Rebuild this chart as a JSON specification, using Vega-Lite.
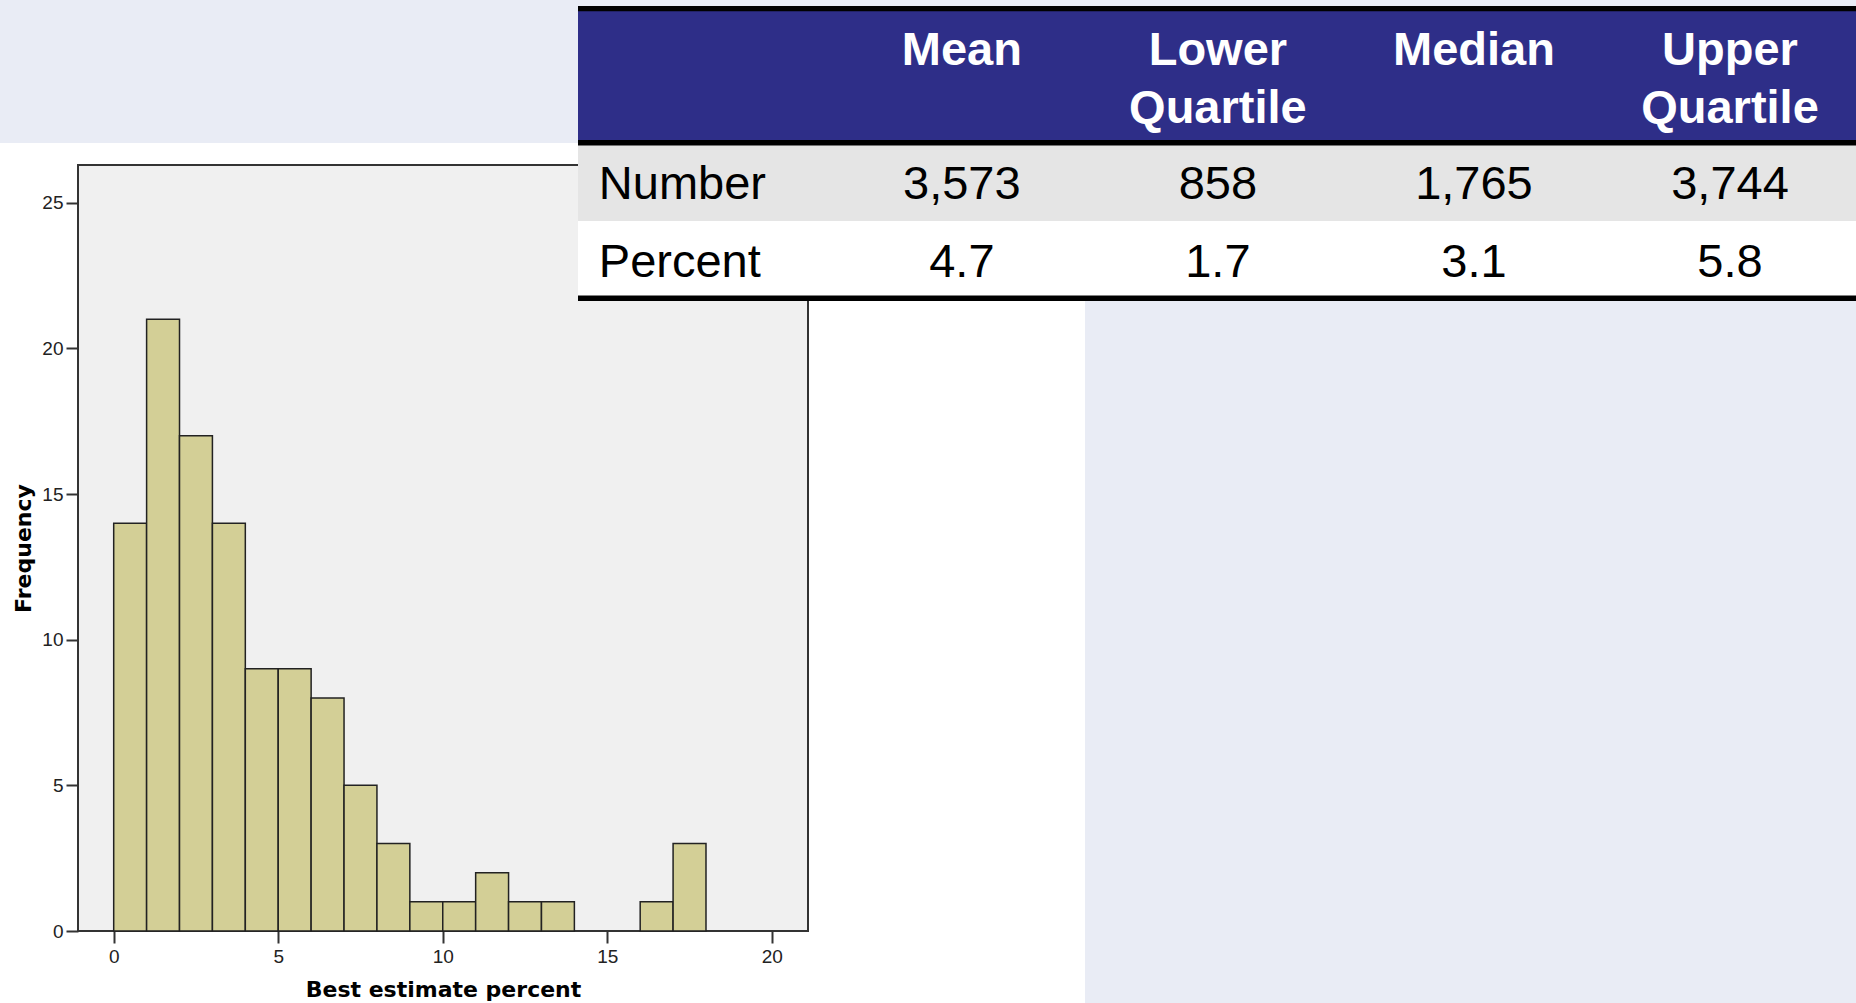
{
  "$schema": "https://vega.github.io/schema/vega-lite/v6.json",
  "autosize": "none",
  "width": 730,
  "height": 766,
  "padding": {"left": 78, "top": 165, "right": 1048, "bottom": 72},
  "background": "white",
  "config": {
    "view": {"stroke": "#333333", "strokeWidth": 2, "fill": "#f0f0f0"},
    "axis": {
      "grid": false,
      "domain": false,
      "tickSize": 12,
      "tickWidth": 2,
      "tickColor": "#333333",
      "labelFont": "Liberation Sans",
      "labelFontSize": 19,
      "labelColor": "#222222",
      "labelFlush": false,
      "labelOverlap": false,
      "titleFont": "DejaVu Sans",
      "titleFontSize": 22,
      "titleFontWeight": "bold",
      "titleColor": "#000000"
    }
  },
  "datasets": {
    "bins": [
      {"bin_start": 0, "bin_end": 1, "frequency": 14},
      {"bin_start": 1, "bin_end": 2, "frequency": 21},
      {"bin_start": 2, "bin_end": 3, "frequency": 17},
      {"bin_start": 3, "bin_end": 4, "frequency": 14},
      {"bin_start": 4, "bin_end": 5, "frequency": 9},
      {"bin_start": 5, "bin_end": 6, "frequency": 9},
      {"bin_start": 6, "bin_end": 7, "frequency": 8},
      {"bin_start": 7, "bin_end": 8, "frequency": 5},
      {"bin_start": 8, "bin_end": 9, "frequency": 3},
      {"bin_start": 9, "bin_end": 10, "frequency": 1},
      {"bin_start": 10, "bin_end": 11, "frequency": 1},
      {"bin_start": 11, "bin_end": 12, "frequency": 2},
      {"bin_start": 12, "bin_end": 13, "frequency": 1},
      {"bin_start": 13, "bin_end": 14, "frequency": 1},
      {"bin_start": 16, "bin_end": 17, "frequency": 1},
      {"bin_start": 17, "bin_end": 18, "frequency": 3}
    ],
    "table": [
      {"row": "Number", "column": "Mean", "value": "3,573"},
      {"row": "Number", "column": "Lower Quartile", "value": "858"},
      {"row": "Number", "column": "Median", "value": "1,765"},
      {"row": "Number", "column": "Upper Quartile", "value": "3,744"},
      {"row": "Percent", "column": "Mean", "value": "4.7"},
      {"row": "Percent", "column": "Lower Quartile", "value": "1.7"},
      {"row": "Percent", "column": "Median", "value": "3.1"},
      {"row": "Percent", "column": "Upper Quartile", "value": "5.8"}
    ],
    "header": [
      {"column": "Mean", "label": ["Mean"]},
      {"column": "Lower Quartile", "label": ["Lower", "Quartile"]},
      {"column": "Median", "label": ["Median"]},
      {"column": "Upper Quartile", "label": ["Upper", "Quartile"]}
    ],
    "rows": [
      {"row": "Number"},
      {"row": "Percent"}
    ]
  },
  "resolve": {"scale": {"x": "independent", "y": "independent"}},
  "layer": [
    {
      "data": {"name": "bins"},
      "mark": {"type": "rect", "fill": "#d3cf96", "stroke": "#222222", "strokeWidth": 1.5},
      "encoding": {
        "x": {
          "field": "bin_start",
          "type": "quantitative",
          "scale": {"domain": [-1.085, 21.1], "nice": false, "zero": false},
          "axis": {"title": "Best estimate percent", "values": [0, 5, 10, 15, 20], "labelPadding": 4, "titlePadding": 13.5}
        },
        "x2": {"field": "bin_end"},
        "y": {
          "field": "frequency",
          "type": "quantitative",
          "scale": {"domain": [0, 26.3], "nice": false},
          "axis": {"title": "Frequency", "values": [0, 5, 10, 15, 20, 25], "labelPadding": 3, "titlePadding": 6}
        },
        "y2": {"datum": 0}
      }
    },
    {
      "layer": [
        {
          "data": {"values": [{}]},
          "mark": {"type": "rect", "fill": "#e9ecf5"},
          "encoding": {
            "x": {"datum": 0, "type": "quantitative", "scale": {"domain": [78, 808], "nice": false, "zero": false}, "axis": null},
            "x2": {"datum": 1856},
            "y": {"datum": 0, "type": "quantitative", "scale": {"domain": [165, 931], "nice": false, "zero": false, "reverse": true}, "axis": null},
            "y2": {"datum": 143}
          }
        },
        {
          "data": {"values": [{}]},
          "mark": {"type": "rect", "fill": "#e9ecf5"},
          "encoding": {
            "x": {"datum": 1085, "type": "quantitative", "axis": null},
            "x2": {"datum": 1856},
            "y": {"datum": 143, "type": "quantitative", "axis": null},
            "y2": {"datum": 1003}
          }
        },
        {
          "data": {"values": [{}]},
          "mark": {"type": "rect", "fill": "#000000"},
          "encoding": {
            "x": {"datum": 578, "type": "quantitative", "axis": null},
            "x2": {"datum": 1856},
            "y": {"datum": 6, "type": "quantitative", "axis": null},
            "y2": {"datum": 301}
          }
        },
        {
          "data": {"values": [{}]},
          "mark": {"type": "rect", "fill": "#2e2e88"},
          "encoding": {
            "x": {"datum": 578, "type": "quantitative", "axis": null},
            "x2": {"datum": 1856},
            "y": {"datum": 11.3, "type": "quantitative", "axis": null},
            "y2": {"datum": 140}
          }
        },
        {
          "data": {"values": [{}]},
          "mark": {"type": "rect", "fill": "#e5e5e5"},
          "encoding": {
            "x": {"datum": 578, "type": "quantitative", "axis": null},
            "x2": {"datum": 1856},
            "y": {"datum": 145.5, "type": "quantitative", "axis": null},
            "y2": {"datum": 221}
          }
        },
        {
          "data": {"values": [{}]},
          "mark": {"type": "rect", "fill": "#ffffff"},
          "encoding": {
            "x": {"datum": 578, "type": "quantitative", "axis": null},
            "x2": {"datum": 1856},
            "y": {"datum": 221, "type": "quantitative", "axis": null},
            "y2": {"datum": 295.5}
          }
        }
      ]
    },
    {
      "layer": [
        {
          "data": {"name": "header"},
          "mark": {"type": "text", "font": "Liberation Sans", "fontSize": 47, "fontWeight": "bold", "color": "#ffffff", "align": "center", "baseline": "alphabetic", "lineHeight": 58.3, "dy": -56.3},
          "encoding": {
            "x": {"field": "column", "type": "nominal", "scale": {"type": "point", "domain": ["label", "Mean", "Lower Quartile", "Median", "Upper Quartile"], "range": [627.8, 1652], "padding": 0}, "axis": null},
            "y": {"datum": "header", "type": "nominal", "scale": {"type": "point", "domain": ["header", "Number", "Percent"], "range": [-43.7, 111.7], "padding": 0}, "axis": null},
            "text": {"field": "label"}
          }
        },
        {
          "data": {"name": "table"},
          "mark": {"type": "text", "font": "Liberation Sans", "fontSize": 47, "color": "#000000", "align": "center", "baseline": "alphabetic"},
          "encoding": {
            "x": {"field": "column", "type": "nominal", "axis": null},
            "y": {"field": "row", "type": "nominal", "axis": null},
            "text": {"field": "value"}
          }
        },
        {
          "data": {"name": "rows"},
          "mark": {"type": "text", "font": "Liberation Sans", "fontSize": 47, "color": "#000000", "align": "left", "baseline": "alphabetic", "dx": -107},
          "encoding": {
            "x": {"datum": "label", "type": "nominal", "axis": null},
            "y": {"field": "row", "type": "nominal", "axis": null},
            "text": {"field": "row"}
          }
        }
      ]
    }
  ]
}
